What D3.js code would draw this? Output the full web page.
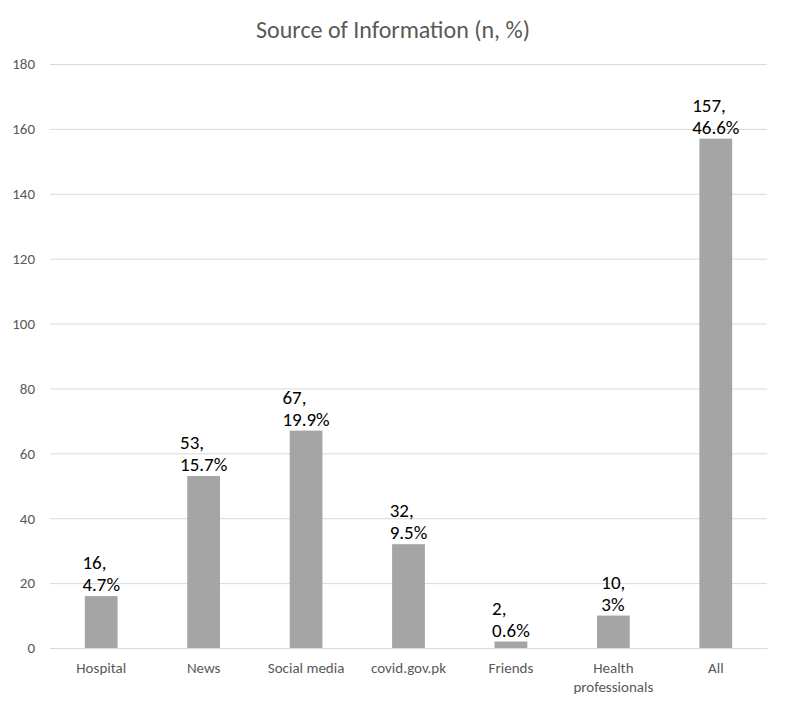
<!DOCTYPE html>
<html>
<head>
<meta charset="utf-8">
<script src="https://cdn.jsdelivr.net/npm/d3@7"></script>
<style>
  body { margin: 0; background: #fff; }
  svg text { font-family: Calibri, Carlito, "Noto Sans", sans-serif; }
</style>
</head>
<body>
<div id="chart"></div>
<script>
var categories = ['Hospital', 'News', 'Social media', 'covid.gov.pk', 'Friends', 'Health professionals', 'All'];
var counts = [16, 53, 67, 32, 2, 10, 157];
var percents = ['4.7%', '15.7%', '19.9%', '9.5%', '0.6%', '3%', '46.6%'];
var y_ticks = [0, 20, 40, 60, 80, 100, 120, 140, 160, 180];

var data = categories.map(function(c, i){
	return { cat: c, num: counts[i], pct: percents[i] };
});

var chart_width = 787;
var chart_height = 708;
var margin = { top: 64, right: 20, bottom: 60, left: 50 };

var svg = d3.select('#chart')
	.append('svg')
	.attr('width', chart_width)
	.attr('height', chart_height);

// scales
var x_scale = d3.scaleBand()
	.domain(categories)
	.range([margin.left, chart_width - margin.right])
	.paddingInner(0.68)
	.paddingOuter(0.34);

var y_scale = d3.scaleLinear()
	.domain([0, 180])
	.range([648, margin.top]);

// title
svg.append('text')
	.attr('x', 393)
	.attr('y', 38)
	.attr('text-anchor', 'middle')
	.attr('fill', '#595959')
	.style('font-size', '24px')
	.text('Source of Information (n, %)');

// gridlines + y axis
var y_axis = d3.axisLeft(y_scale)
	.tickValues(y_ticks)
	.tickSize(-(chart_width - margin.right - margin.left))
	.tickPadding(15);

svg.append('g')
	.attr('class', 'y-axis')
	.attr('transform', 'translate(' + margin.left + ',0)')
	.call(y_axis)
	.call(function(g){
		g.select('.domain').remove();
		g.selectAll('line').attr('stroke', '#d9d9d9');
		g.selectAll('text').attr('fill', '#595959').style('font-size', '15px');
	});

// bars
svg.selectAll('rect.bar')
	.data(data)
	.enter()
	.append('rect')
	.attr('class', 'bar')
	.attr('x', function(d){ return x_scale(d.cat); })
	.attr('y', function(d){ return y_scale(d.num); })
	.attr('width', x_scale.bandwidth())
	.attr('height', function(d){ return y_scale(0) - y_scale(d.num); })
	.attr('fill', '#a5a5a5');

// x axis
var x_axis = d3.axisBottom(x_scale).tickSize(0).tickPadding(14);

svg.append('g')
	.attr('class', 'x-axis')
	.attr('transform', 'translate(0,' + y_scale(0) + ')')
	.call(x_axis)
	.call(function(g){
		g.select('.domain').attr('stroke', '#d9d9d9');
		g.selectAll('text')
			.attr('fill', '#595959')
			.style('font-size', '15px')
			.each(function(d){
				if (d === 'Health professionals') {
					var t = d3.select(this).text(null);
					t.append('tspan').attr('x', 0).attr('dy', '0.71em').text('Health');
					t.append('tspan').attr('x', 0).attr('dy', '1.3em').text('professionals');
					t.attr('dy', null);
				}
			});
	});

// data labels
var labels = svg.selectAll('g.label')
	.data(data)
	.enter()
	.append('g')
	.attr('class', 'label');

labels.each(function(d){
	var g = d3.select(this);
	var cx = x_scale(d.cat) + x_scale.bandwidth() / 2;
	var by = y_scale(d.num) - 5;
	var t = g.append('text')
		.attr('fill', '#000')
		.style('font-size', '19px');
	t.append('tspan').attr('y', by - 22).text(d.num + ',');
	t.append('tspan').attr('y', by).text(d.pct);
	var w = d3.max(t.selectAll('tspan').nodes(), function(n){ return n.getComputedTextLength(); });
	t.selectAll('tspan').attr('x', cx - w / 2);
});
</script>
</body>
</html>
